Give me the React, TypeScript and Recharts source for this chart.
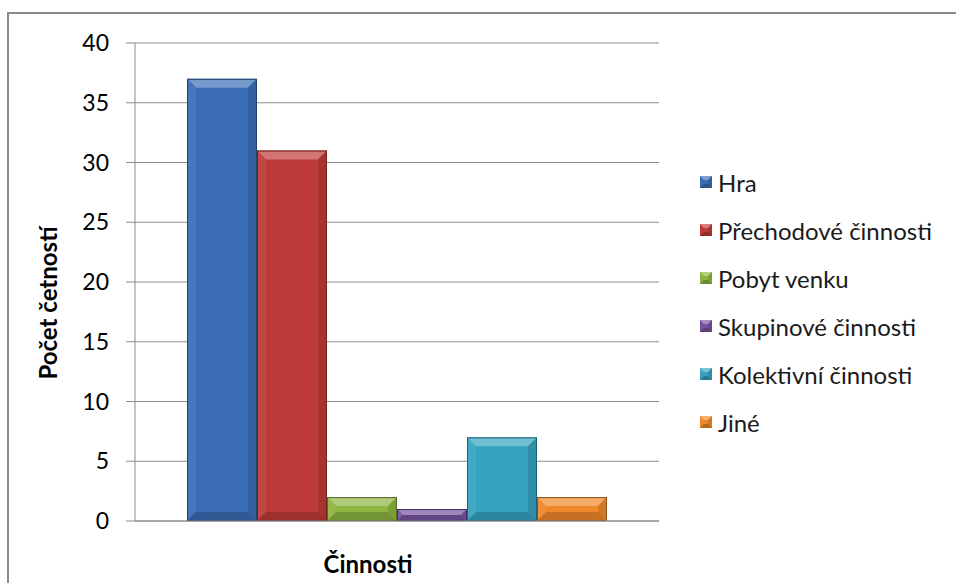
import React from 'react';
import { BarChart, Bar, XAxis, YAxis, CartesianGrid, Label } from 'recharts';

const category = 'Činnosti';
const yTitle = 'Počet četností';
const seriesNames = ['Hra', 'Přechodové činnosti', 'Pobyt venku', 'Skupinové činnosti', 'Kolektivní činnosti', 'Jiné'];
const seriesValues = [37, 31, 2, 1, 7, 2];
const seriesColors = ['#3A6DB5', '#BE3A38', '#8CB43F', '#7653A0', '#35A3C0', '#F0882A'];
const yTicks = [0, 5, 10, 15, 20, 25, 30, 35, 40];

const row: Record<string, any> = { name: category };
seriesNames.forEach((n, i) => { row[n] = seriesValues[i]; });
const data = [row];

const FONT = 'Lato, "Open Sans", sans-serif';

function shade(hex: string, amt: number) {
  const n = parseInt(hex.slice(1), 16);
  let r = (n >> 16) & 255, g = (n >> 8) & 255, b = n & 255;
  const f = (c: number) => amt >= 0 ? Math.round(c + (255 - c) * amt) : Math.round(c * (1 + amt));
  r = f(r); g = f(g); b = f(b);
  return `rgb(${r},${g},${b})`;
}

const BevelBar = (props: any) => {
  const { x, y, width: w, height: h, fill } = props;
  if (!w || !h || h <= 0) return null;
  const b = Math.min(9, h / 2, w / 2);
  return (
    <g>
      <rect x={x} y={y} width={w} height={h} fill={fill} />
      <polygon points={`${x},${y} ${x + w},${y} ${x + w - b},${y + b} ${x + b},${y + b}`} fill={shade(fill, 0.3)} />
      <polygon points={`${x},${y} ${x + b},${y + b} ${x + b},${y + h - b} ${x},${y + h}`} fill={shade(fill, 0.06)} />
      <polygon points={`${x + w},${y} ${x + w},${y + h} ${x + w - b},${y + h - b} ${x + w - b},${y + b}`} fill={shade(fill, -0.12)} />
      <polygon points={`${x},${y + h} ${x + b},${y + h - b} ${x + w - b},${y + h - b} ${x + w},${y + h}`} fill={shade(fill, -0.18)} />
      <rect x={x + 0.5} y={y + 0.5} width={w - 1} height={h - 1} fill="none" stroke={shade(fill, -0.4)} strokeWidth={1} />
    </g>
  );
};

const LegendBox = () => (
  <div style={{ position: 'absolute', left: 700, top: 158, fontFamily: FONT, fontSize: 24, color: '#1a1a1a' }}>
    {seriesNames.map((n, i) => (
      <div key={n} style={{ display: 'flex', alignItems: 'center', height: 48, whiteSpace: 'nowrap' }}>
        <svg width={12} height={12} style={{ marginRight: 6 }}>
          <rect x={0} y={0} width={12} height={12} fill={seriesColors[i]} />
          <polygon points="0,0 12,0 8,4 4,4" fill={shade(seriesColors[i], 0.35)} />
          <polygon points="0,12 4,8 8,8 12,12" fill={shade(seriesColors[i], -0.25)} />
          <polygon points="12,0 12,12 8,8 8,4" fill={shade(seriesColors[i], -0.12)} />
        </svg>
        <span>{n}</span>
      </div>
    ))}
  </div>
);

const titleStyle = { fontFamily: FONT, fontSize: 24, fontWeight: 700, fill: '#000' } as const;

export default function App() {
  return (
    <div style={{ position: 'absolute', left: 0, top: 0, width: 956, height: 583, background: '#fff', overflow: 'hidden' }}>
      <div style={{ position: 'absolute', left: 7, top: 12, width: 1000, height: 700, border: '2px solid #8a8a8a', boxSizing: 'border-box' }} />
      <div style={{ position: 'absolute', left: 0, top: 0 }}>
        <BarChart width={956} height={583} data={data} margin={{ top: 43, right: 297, bottom: 0, left: 0 }} barGap={0} barCategoryGap={52}>
          <CartesianGrid vertical={false} stroke="#8c8c8c" strokeWidth={1} />
          <XAxis dataKey="name" height={62} tick={false} axisLine={{ stroke: '#8c8c8c' }} tickLine={false}>
            <Label content={() => (
              <text x={368} y={573} textAnchor="middle" style={titleStyle}>{category}</text>
            )} />
          </XAxis>
          <YAxis width={135} domain={[0, 40]} ticks={yTicks} interval={0} axisLine={{ stroke: '#8c8c8c' }} tickLine={{ stroke: '#8c8c8c' }} tickSize={9} tickMargin={17}
            tick={{ fontFamily: FONT, fontSize: 23, fill: '#000' }}>
            <Label content={() => (
              <text x={47} y={303} transform="rotate(-90 47 303)" textAnchor="middle" dominantBaseline="central" style={titleStyle}>{yTitle}</text>
            )} />
          </YAxis>
          {seriesNames.map((n, i) => (
            <Bar key={n} dataKey={n} fill={seriesColors[i]} isAnimationActive={false} shape={<BevelBar />} />
          ))}
        </BarChart>
      </div>
      <LegendBox />
    </div>
  );
}
